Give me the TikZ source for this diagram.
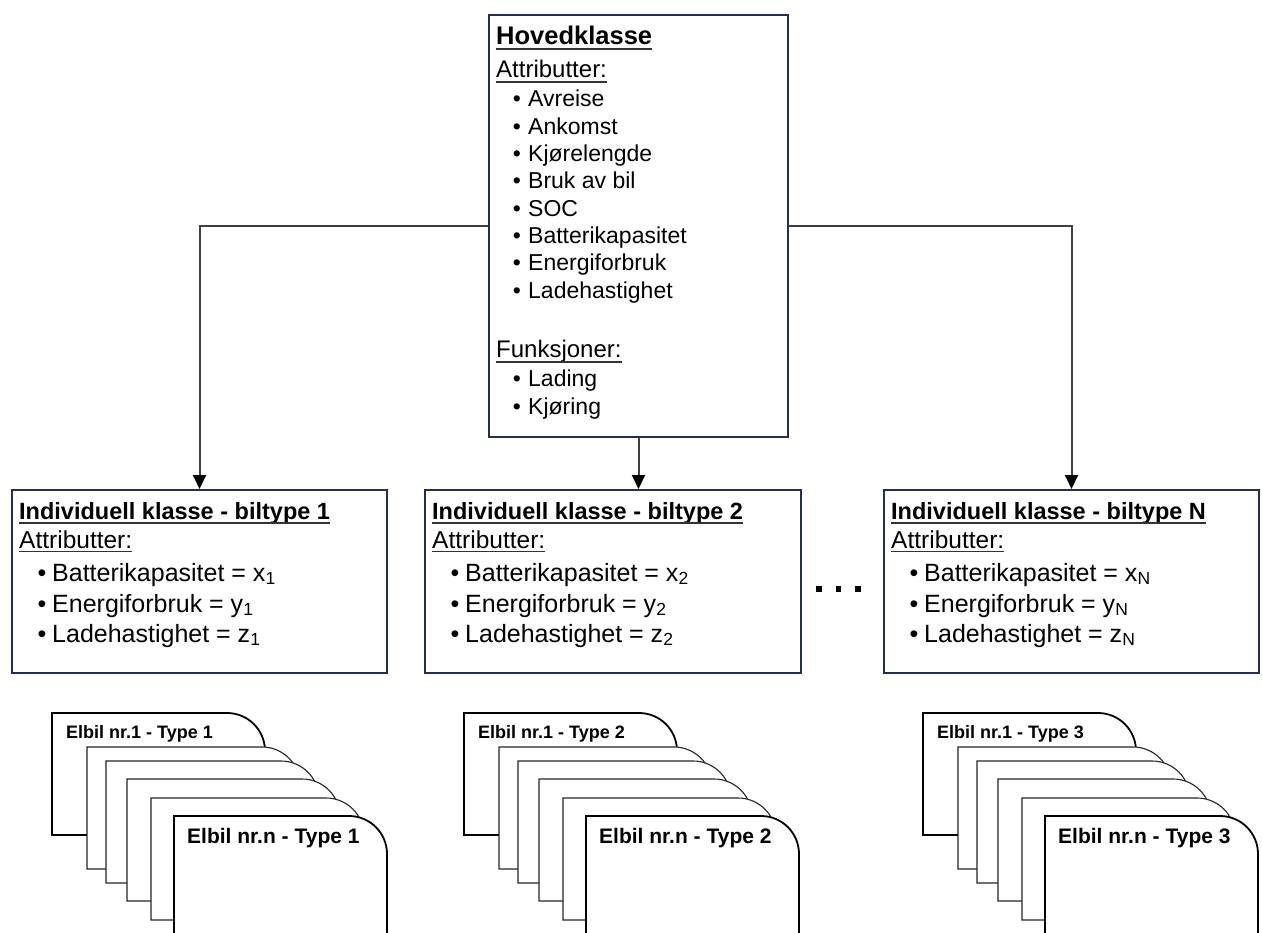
\documentclass[tikz,border=0pt]{standalone}
\usepackage{fontspec}
\setmainfont{Liberation Sans}
\usetikzlibrary{arrows.meta}
\definecolor{frameblue}{RGB}{38,46,78}
\newcommand\fsz[1]{\fontsize{#1}{#1}\selectfont}
\begin{document}
\begin{tikzpicture}[x=1pt,y=-1pt,
  frame/.style={draw=frameblue, line width=2pt, fill=white, inner sep=0pt},
  txt/.style={anchor=base west, inner sep=0pt, text=black},
  bul/.style={anchor=base, inner sep=0pt, text=black},
  ulline/.style={line width=1.6pt, draw=black!80},
  arr/.style={draw=black!75, line width=2pt,
    -{Triangle[length=14pt,width=13pt,color=black]}},
  cardthick/.style={draw=black, line width=1.8pt, fill=white},
  cardthin/.style={draw=black!85, line width=1.1pt, fill=white}
]
\useasboundingbox (0,0) rectangle (1262,933);
\clip (0,0) rectangle (1262,933);

% ---------- main class ----------
\node[frame, minimum width=299pt, minimum height=422pt] (hk) at (638.5,226) {};
\node[txt, font=\fsz{25.5}\bfseries] (hk-head) at (496,45) {Hovedklasse};
\node[txt, font=\fsz{24}] (hk-attr) at (496,78) {Attributter:};
\node[txt, font=\fsz{24}] (hk-func) at (496,358) {Funksjoner:};
\foreach \n in {hk-head,hk-attr,hk-func}
  \draw[ulline] ([yshift=-4pt]\n.base west) -- ([yshift=-4pt]\n.base east);
\foreach \t [count=\i] in {Avreise,Ankomst,Kjørelengde,Bruk av bil,SOC,
    Batterikapasitet,Energiforbruk,Ladehastighet}{
  \pgfmathsetmacro\yy{107+(\i-1)*27.3}
  \node[bul, font=\fsz{23}] (hk-b\i) at (517,\yy) {•};
  \node[txt, font=\fsz{23}] (hk-t\i) at (528,\yy) {\t};
}
\foreach \t [count=\i] in {Lading,Kjøring}{
  \pgfmathsetmacro\yy{387+(\i-1)*27.3}
  \node[bul, font=\fsz{23}] (hk-fb\i) at (517,\yy) {•};
  \node[txt, font=\fsz{23}] (hk-ft\i) at (528,\yy) {\t};
}

% ---------- individual classes ----------
\node[frame, minimum width=375pt, minimum height=183pt] (b1) at (199.5,581.5) {};
\node[frame, minimum width=376pt, minimum height=183pt] (b2) at (613,581.5) {};
\node[frame, minimum width=375pt, minimum height=183pt] (bN) at (1071.5,581.5) {};

\foreach \nm/\lx/\s in {b1/12/1, b2/425/2, bN/884/N}{
  \node[txt, font=\fsz{23.5}\bfseries] (\nm-head) at ({\lx+7},519)
    {Individuell klasse - biltype \s};
  \node[txt, font=\fsz{24.5}] (\nm-attr) at ({\lx+7},548) {Attributter:};
  \draw[ulline] ([yshift=-4pt]\nm-head.base west) -- ([yshift=-4pt]\nm-head.base east);
  \draw[ulline] ([yshift=-3.5pt]\nm-attr.base west) -- ([yshift=-3.5pt]\nm-attr.base east);
  \node[bul, font=\fsz{25}] (\nm-b1) at ({\lx+30},581) {•};
  \node[txt, font=\fsz{25}] (\nm-t1) at ({\lx+40},581) {Batterikapasitet = x\textsubscript{\s}};
  \node[bul, font=\fsz{25}] (\nm-b2) at ({\lx+30},612) {•};
  \node[txt, font=\fsz{25}] (\nm-t2) at ({\lx+40},612) {Energiforbruk = y\textsubscript{\s}};
  \node[bul, font=\fsz{25}] (\nm-b3) at ({\lx+30},642) {•};
  \node[txt, font=\fsz{25}] (\nm-t3) at ({\lx+40},642) {Ladehastighet = z\textsubscript{\s}};
}

% ellipsis between the second and the last class
\foreach \dx in {819,838.5,858}
  \fill[black] ({\dx-2.6},586.4) rectangle ({\dx+2.6},591.6);

% ---------- inheritance arrows ----------
\draw[arr] (hk.west) -| (b1.north);
\draw[arr] (hk.south) -- (hk.south |- b2.north);
\draw[arr] (hk.east) -| (bN.north);

% ---------- stacks of car objects ----------
\foreach \gx/\s in {0/1, 412/2, 871/3}{
  \foreach \dx/\dy/\st [count=\k] in {0/0/cardthick, 35/34/cardthin, 54/48/cardthin,
      75/66/cardthin, 99/85/cardthin, 122/103/cardthick}{
    \pgfmathsetmacro\cx{52+\gx+\dx}
    \pgfmathsetmacro\cy{713+\dy}
    \filldraw[\st] (\cx,{\cy+122}) -- (\cx,\cy) -- ({\cx+175},\cy)
      .. controls ({\cx+196},\cy) and ({\cx+213},{\cy+17}) .. ({\cx+213},{\cy+38})
      -- ({\cx+213},{\cy+122}) -- cycle;
  }
  \node[txt, font=\fsz{18}\bfseries] (car1-\s) at ({66+\gx},738) {Elbil nr.1 - Type \s};
  \node[txt, font=\fsz{21}\bfseries] (carn-\s) at ({187+\gx},843) {Elbil nr.n - Type \s};
}
\end{tikzpicture}
\end{document}
